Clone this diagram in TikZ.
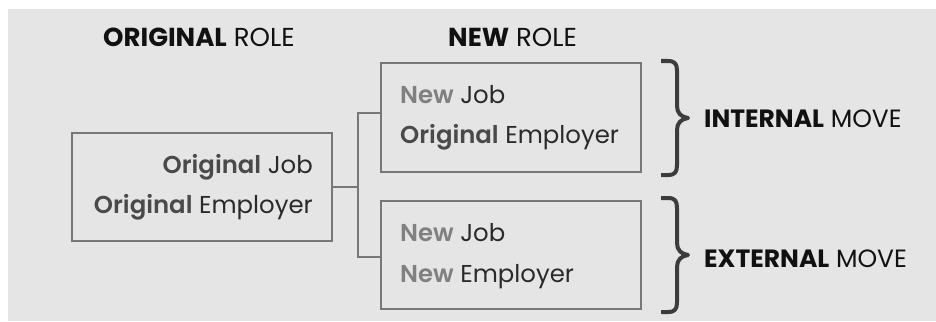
\documentclass[tikz,border=0pt]{standalone}
\usepackage{fontspec}
\setmainfont{Poppins}
\newfontfamily\popsemi{Poppins SemiBold}
\definecolor{bg}{HTML}{E5E5E5}
\definecolor{boxline}{HTML}{777777}
\definecolor{bracec}{HTML}{3C3C3C}
\definecolor{darktxt}{HTML}{2A2A2A}
\definecolor{midtxt}{HTML}{4A4A4A}
\definecolor{lighttxt}{HTML}{808080}
\definecolor{headtxt}{HTML}{111111}
\tikzset{
  rolebox/.style={draw=boxline, line width=2.5pt, minimum width=260pt, minimum height=108pt, inner sep=0pt},
  conn/.style={draw=boxline, line width=2.5pt},
  bracestyle/.style={draw=bracec, line width=4pt, line cap=butt, line join=round},
  head/.style={font=\fontsize{26}{30}\selectfont, text=headtxt, inner sep=0pt},
  movetxt/.style={font=\fontsize{25}{30}\selectfont, text=headtxt, inner sep=0pt},
  boxtxt/.style={font=\fontsize{24.4}{28}\selectfont, text=darktxt, inner sep=0pt},
}
\newcommand{\orig}{{\color{midtxt}\popsemi Original}}
\newcommand{\newword}{{\color{lighttxt}\popsemi New}}
\begin{document}
\begin{tikzpicture}[x=1pt,y=-1pt]
\useasboundingbox (0,0) rectangle (936,321);
\fill[bg] (8,9) rectangle (936,321);

% headers
\node[head, anchor=base west] (h1) at (103,46) {\textbf{ORIGINAL} ROLE};
\node[head, anchor=base west] (h2) at (448,46) {\textbf{NEW} ROLE};

% boxes
\node[rolebox] (L) at (202,187) {};
\node[rolebox, minimum height=109pt] (T) at (511,117.5) {};
\node[rolebox] (B) at (511,255) {};

% box texts
\node[boxtxt, anchor=base east] (l1) at (313,173) {\orig{} Job};
\node[boxtxt, anchor=base east] (l2) at (313,213) {\orig{} Employer};
\node[boxtxt, anchor=base west] (t1) at (400,103) {\newword{} Job};
\node[boxtxt, anchor=base west] (t2) at (400,143) {\orig{} Employer};
\node[boxtxt, anchor=base west] (b1) at (400,241) {\newword{} Job};
\node[boxtxt, anchor=base west] (b2) at (400,282) {\newword{} Employer};

% connectors
\coordinate (j) at (358,187);
\draw[conn] (L.east) -- (j);
\draw[conn] (T.west |- 0,113) -| (j) |- (B.west |- 0,257);

% braces
\foreach \o in {0,137}{
\begin{scope}[shift={(0,\o)}]
\draw[bracestyle] (661,61) -- (668,61) .. controls (675,61) and (677,64) .. (677,71) -- (677,106) .. controls (677,113) and (681,117) .. (688,118) .. controls (681,119) and (677,123) .. (677,130) -- (677,165) .. controls (677,172) and (675,175) .. (668,175) -- (661,175);
\end{scope}}

% move labels
\node[movetxt, anchor=base west] (m1) at (704,127) {\textbf{INTERNAL} MOVE};
\node[movetxt, anchor=base west] (m2) at (704,267) {\textbf{EXTERNAL} MOVE};
\end{tikzpicture}
\end{document}
